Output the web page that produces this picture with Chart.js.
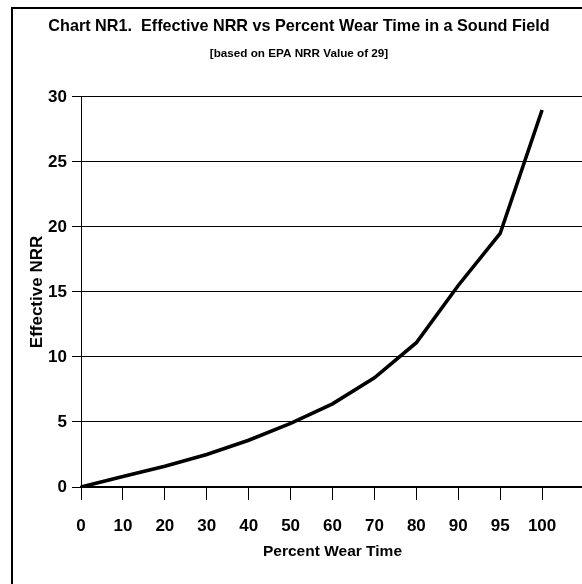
<!DOCTYPE html>
<html>
<head>
<meta charset="utf-8">
<script src="https://cdn.jsdelivr.net/npm/chart.js@4.4.1/dist/chart.umd.min.js"></script>
<style>
  html, body { margin: 0; padding: 0; background: #fff; width: 582px; height: 584px; overflow: hidden; }
  #frame { position: absolute; left: 11px; top: 7px; width: 640px; height: 640px; border-left: 2px solid #000; border-top: 2px solid #000; }
  #c { position: absolute; left: 14px; top: 10px; }
</style>
</head>
<body>
<div id="frame"></div>
<canvas id="c" width="572" height="600" style="width:572px;height:600px"></canvas>
<script>
const categories = ['0', '10', '20', '30', '40', '50', '60', '70', '80', '90', '95', '100'];
const effectiveNRR = [0, 0.8, 1.6, 2.5, 3.6, 4.9, 6.4, 8.4, 11.1, 15.5, 19.5, 29];
const yTicks = [0, 5, 10, 15, 20, 25, 30];
const titleText = 'Chart NR1.  Effective NRR vs Percent Wear Time in a Sound Field';
const subtitleText = '[based on EPA NRR Value of 29]';
const xTitle = 'Percent Wear Time';
const yTitle = 'Effective NRR';

const FONT = "'Liberation Sans', Arial, sans-serif";

// one trailing blank slot: the plot area runs on past the last category (cropped in the original)
const axisLabels = categories.concat(['']);

new Chart(document.getElementById('c'), {
  type: 'line',
  data: {
    labels: axisLabels,
    datasets: [{
      data: effectiveNRR,
      borderColor: '#000',
      borderWidth: 3.6,
      pointRadius: 0,
      tension: 0,
      fill: false
    }]
  },
  options: {
    responsive: false,
    animation: false,
    devicePixelRatio: 1,
    layout: { padding: { left: 0, right: 2, top: 0, bottom: 48.7 } },
    plugins: {
      legend: { display: false },
      tooltip: { enabled: false },
      title: {
        display: true,
        text: titleText,
        color: '#000',
        font: { family: FONT, size: 16.2, weight: 'bold' },
        padding: { top: 7.2, bottom: 4 }
      },
      subtitle: {
        display: true,
        text: subtitleText,
        color: '#000',
        font: { family: FONT, size: 11.7, weight: 'bold' },
        padding: { top: 6.4, bottom: 35.9 }
      }
    },
    scales: {
      x: {
        type: 'category',
        offset: false,
        grid: {
          display: true, drawOnChartArea: false, drawTicks: true, tickLength: 13, lineWidth: 1,
          color: (ctx) => (ctx.index >= categories.length ? 'rgba(0,0,0,0)' : '#000')
        },
        border: { display: true, color: '#000', width: 1.5 },
        ticks: { color: '#000', font: { family: FONT, size: 17, weight: 'bold' }, padding: 16, maxRotation: 0, autoSkip: false },
        title: { display: true, text: xTitle, color: '#000', font: { family: FONT, size: 15.5, weight: 'bold' }, padding: { top: 0, bottom: 0 } },
        afterFit: (s) => { s.height = 74.3; s.paddingLeft = 0; s.paddingRight = 0; }
      },
      y: {
        min: 0,
        max: 30,
        afterBuildTicks: (s) => { s.ticks = yTicks.map(v => ({ value: v })); },
        grid: { display: true, drawOnChartArea: true, drawTicks: true, tickLength: 9, color: '#000', lineWidth: 1 },
        border: { display: true, color: '#000', width: 1 },
        ticks: { color: '#000', font: { family: FONT, size: 17, weight: 'bold' }, padding: 5 },
        title: { display: true, text: yTitle, color: '#000', font: { family: FONT, size: 17, weight: 'bold' }, padding: { top: 12.8, bottom: 0 } },
        afterFit: (s) => { s.width = 67; }
      }
    }
  }
});
</script>
</body>
</html>
